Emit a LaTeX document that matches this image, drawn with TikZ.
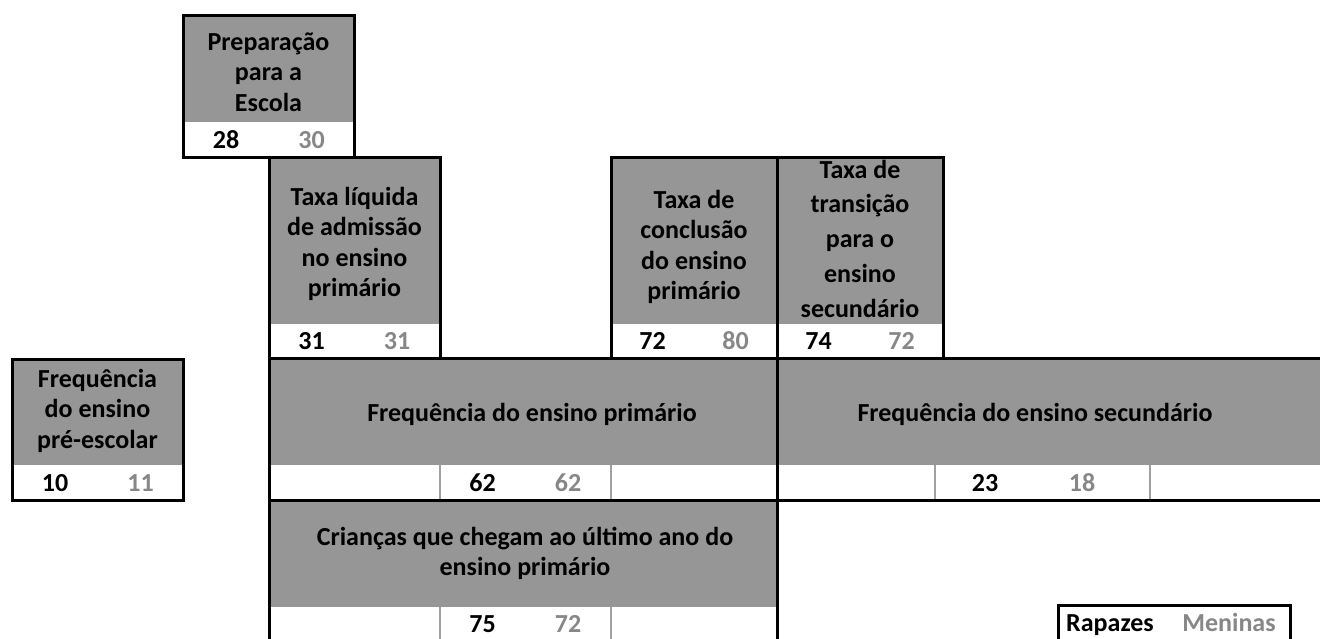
\documentclass[tikz,border=0pt]{standalone}
\usepackage{fontspec}
\setmainfont{Carlito}
\definecolor{cellgray}{RGB}{150,150,150}
\definecolor{numgray}{RGB}{135,135,135}
\definecolor{sepgray}{RGB}{160,160,160}
\newcommand{\sr}{\rule[-7.5pt]{0pt}{30.5pt}}
\newcommand{\srb}{\rule[-8pt]{0pt}{34.75pt}}
\begin{document}
\begin{tikzpicture}[x=1pt,y=-1pt,
  lbl/.style={font=\fontsize{26}{30.5}\selectfont\bfseries, align=center, inner sep=0pt, anchor=north},
  lblb/.style={font=\fontsize{26}{34.75}\selectfont\bfseries, align=center, inner sep=0pt, anchor=north},
  one/.style={font=\fontsize{26}{30}\selectfont\bfseries, inner sep=0pt, anchor=base},
  boy/.style={one},
  girl/.style={one, text=numgray},
  border/.style={line width=3pt, line cap=rect},
  sep/.style={sepgray, line width=2pt}]
\useasboundingbox (0,0) rectangle (1320,638);
% gray header fills
\fill[cellgray] (183,15) rectangle (354,122);
\fill[cellgray] (269,157) rectangle (440,324);
\fill[cellgray] (611,157) rectangle (943,324);
\fill[cellgray] (12,359) rectangle (183,465);
\fill[cellgray] (269,358) rectangle (1330,465);
\fill[cellgray] (269,500) rectangle (777,607);
% thin separators in value rows
\draw[sep] (440,465) -- (440,500) (611,465) -- (611,500)
           (935,465) -- (935,500) (1150,465) -- (1150,500)
           (440,607) -- (440,645) (611,607) -- (611,645);
% black borders
\draw[border] (183,15) rectangle (354,157);
\draw[border] (269,157) rectangle (440,358);
\draw[border] (611,157) rectangle (943,358);
\draw[border] (777,157) -- (777,645);
\draw[border] (12,359) rectangle (183,500);
\draw[border] (1330,358) -- (269,358) -- (269,645);
\draw[border] (269,500) -- (1330,500);
\draw[border] (1058,605) rectangle (1290,650);
% header labels
\node[lbl] (prep) at (268.5,27) {\sr Preparação\\\sr para a\\\sr Escola};
\node[lbl] (admis) at (354.5,182) {\sr Taxa líquida\\\sr de admissão\\\sr no ensino\\\sr primário};
\node[lbl] (concl) at (694,185) {\sr Taxa de\\\sr conclusão\\\sr do ensino\\\sr primário};
\node[lblb] (trans) at (860,151.25) {\srb Taxa de\\\srb transição\\\srb para o\\\srb ensino\\\srb secundário};
\node[lbl] (presc) at (97.5,364) {\sr Frequência\\\sr do ensino\\\sr pré-escolar};
\node[one] (fprim) at (532,421) {Frequência do ensino primário};
\node[one] (fsec) at (1035,421) {Frequência do ensino secundário};
\node[lbl] (criancas) at (525,522) {\sr Crianças que chegam ao último ano do\\\sr ensino primário};
% values
\node[boy] (v1a) at (226,148) {28};
\node[girl] (v1b) at (311.5,148) {30};
\node[boy] (v2a) at (311.5,349) {31};
\node[girl] (v2b) at (397,349) {31};
\node[boy] (v3a) at (652.5,349) {72};
\node[girl] (v3b) at (735.5,349) {80};
\node[boy] (v4a) at (818.5,349) {74};
\node[girl] (v4b) at (901.5,349) {72};
\node[boy] (v5a) at (55,491) {10};
\node[girl] (v5b) at (140.5,491) {11};
\node[boy] (v6a) at (482.5,491) {62};
\node[girl] (v6b) at (568,491) {62};
\node[boy] (v7a) at (985,491) {23};
\node[girl] (v7b) at (1082,491) {18};
\node[boy] (v8a) at (482.5,632) {75};
\node[girl] (v8b) at (568,632) {72};
% legend
\node[boy] (legr) at (1110,631) {Rapazes};
\node[girl] (legm) at (1229,631) {Meninas};
\end{tikzpicture}
\end{document}
